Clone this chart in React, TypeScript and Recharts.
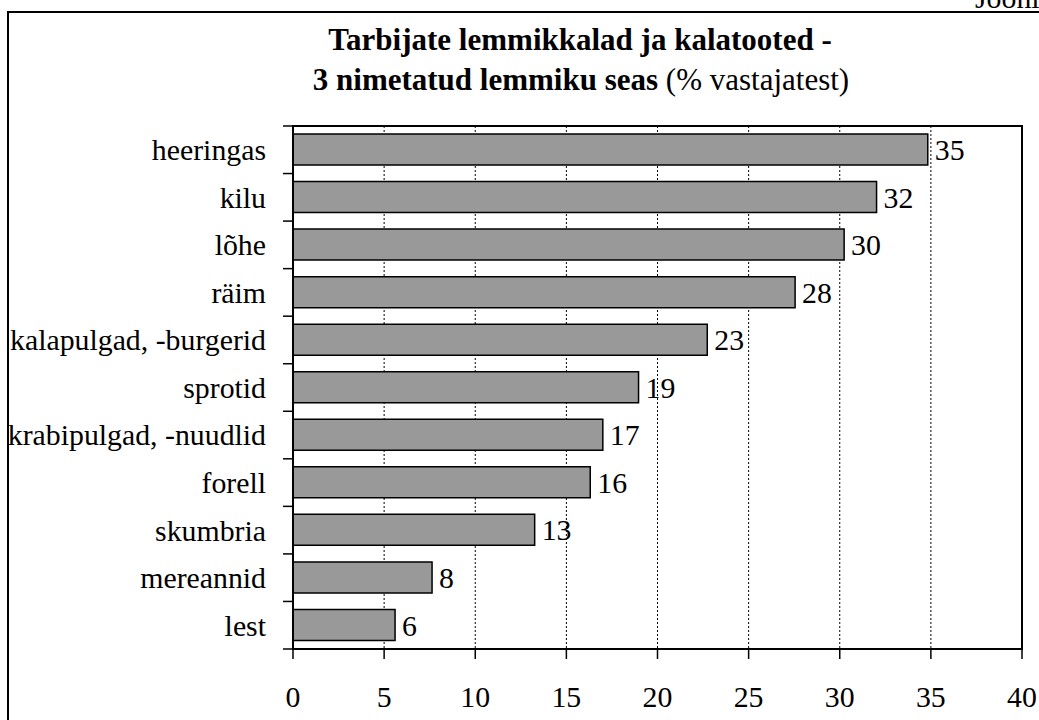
import React from 'react';
import { BarChart, Bar, XAxis, YAxis, CartesianGrid, LabelList, ReferenceArea } from 'recharts';

const categories = [
  'heeringas',
  'kilu',
  'lõhe',
  'räim',
  'kalapulgad, -burgerid',
  'sprotid',
  'krabipulgad, -nuudlid',
  'forell',
  'skumbria',
  'mereannid',
  'lest',
];
const values = [34.83, 32.02, 30.24, 27.55, 22.73, 18.96, 17.0, 16.31, 13.26, 7.63, 5.6];
const valueLabels = ['35', '32', '30', '28', '23', '19', '17', '16', '13', '8', '6'];
const xTicks = [0, 5, 10, 15, 20, 25, 30, 35, 40];
const titleLine1 = 'Tarbijate lemmikkalad ja kalatooted -';
const titleLine2Bold = '3 nimetatud lemmiku seas';
const titleLine2Regular = ' (% vastajatest)';
const cornerText = 'Joonis';

const data = categories.map((name, i) => ({ name, value: values[i], label: valueLabels[i] }));

const FONT = '"Liberation Serif", "Times New Roman", serif';
const W = 1039;
const H = 720;
const M_TOP = 126;
const M_RIGHT = 17;
const Y_AXIS_W = 293;
const X_AXIS_H = 71;
const PLOT_BOTTOM = H - X_AXIS_H;
const TICK = 10;
const FS = 29.8;

const YTick = (props: any) => {
  const { x, y, payload, index } = props;
  const band = (PLOT_BOTTOM - M_TOP) / categories.length;
  const axisX = Y_AXIS_W;
  const isLast = index === categories.length - 1 || payload.value === categories[categories.length - 1];
  return (
    <g>
      <line x1={axisX - TICK} x2={axisX} y1={y - band / 2} y2={y - band / 2} stroke="#000" strokeWidth={1.5} />
      {isLast && (
        <line x1={axisX - TICK} x2={axisX} y1={y + band / 2} y2={y + band / 2} stroke="#000" strokeWidth={1.5} />
      )}
      <text x={x} y={y} dy="0.35em" textAnchor="end" fontSize={FS} fill="#000" fontFamily={FONT}>
        {payload.value}
      </text>
    </g>
  );
};

export default function App() {
  return (
    <div style={{ position: 'fixed', left: 0, top: 0, width: W, height: H, background: '#fff', fontFamily: FONT }}>
      <BarChart
        width={W}
        height={H}
        data={data}
        layout="vertical"
        margin={{ top: M_TOP, right: M_RIGHT, bottom: 0, left: 0 }}
        barSize={31}
      >
        <CartesianGrid horizontal={false} stroke="#000" strokeDasharray="2 2" strokeWidth={1} />
        <XAxis
          type="number"
          domain={[0, 40]}
          ticks={xTicks}
          height={X_AXIS_H}
          tickSize={TICK}
          tickMargin={27}
          axisLine={{ stroke: '#000', strokeWidth: 2 }}
          tickLine={{ stroke: '#000', strokeWidth: 1.5 }}
          tick={{ fontSize: FS, fill: '#000', fontFamily: FONT }}
          interval={0}
        />
        <YAxis
          type="category"
          dataKey="name"
          width={Y_AXIS_W}
          tickSize={TICK}
          tickMargin={17}
          axisLine={{ stroke: '#000', strokeWidth: 2 }}
          tickLine={false}
          tick={<YTick />}
          interval={0}
        />
        <ReferenceArea x1={0} x2={40} fill="none" stroke="#000" strokeWidth={2} ifOverflow="visible" />
        <Bar dataKey="value" fill="#999999" stroke="#000" strokeWidth={1.5} isAnimationActive={false}>
          <LabelList dataKey="label" position="right" offset={7} fontSize={FS} fill="#000" fontFamily={FONT} />
        </Bar>
      </BarChart>
      <svg
        width={W}
        height={H}
        style={{ position: 'absolute', left: 0, top: 0, pointerEvents: 'none' }}
      >
        <rect x={8} y={12} width={W + 20} height={H + 20} fill="none" stroke="#000" strokeWidth={2} />
        <text x={975} y={8} fontSize={FS} fill="#000" fontFamily={FONT}>
          {cornerText}
        </text>
        <text x={580} y={50} textAnchor="middle" fontSize={31} fontWeight="bold" fill="#000" fontFamily={FONT}>
          {titleLine1}
        </text>
        <text x={581} y={90} textAnchor="middle" fontSize={31} fill="#000" fontFamily={FONT}>
          <tspan fontWeight="bold">{titleLine2Bold}</tspan>
          <tspan>{titleLine2Regular}</tspan>
        </text>
      </svg>
    </div>
  );
}
